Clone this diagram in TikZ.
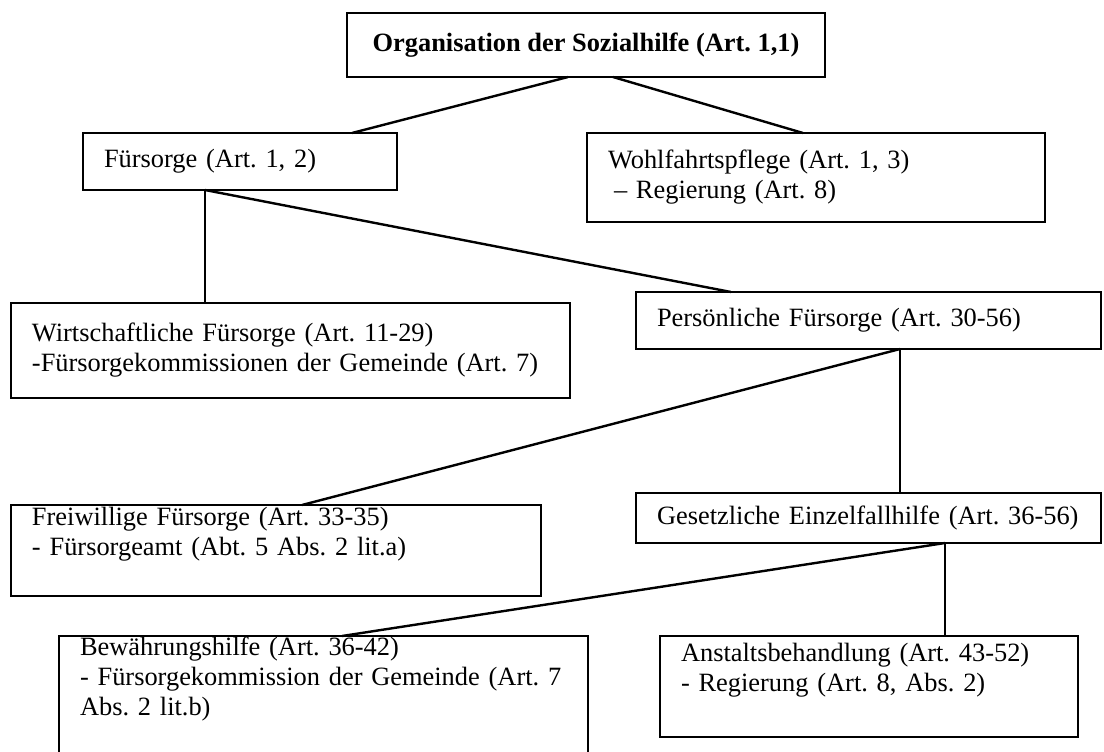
\documentclass[tikz,border=0pt]{standalone}
\usepackage{fontspec}
\setmainfont{Liberation Serif}
\usetikzlibrary{positioning}
\frenchspacing

\begin{document}
\begin{tikzpicture}[x=0.5pt, y=-0.5pt, line width=1.2pt]
	\tikzstyle{box}=[draw, rectangle, align=left, inner xsep=10.5pt, inner ysep=0pt,
		outer sep=0pt, font=\fontsize{13.2}{15}\selectfont]
	\useasboundingbox (0,0) rectangle (1104,751);
	\clip (0,0) rectangle (1104,751);
	% % Nodes
	% organisation
	\node[box, align=center, minimum width=239pt, minimum height=32pt,
		  font=\fontsize{13.2}{15}\selectfont\bfseries]
	(org) at (586,45)
	{Organisation der Sozialhilfe (Art. 1,1)};
	% fuersorge
	\node[box, text width=136pt, minimum height=28.5pt,
		  below left=28pt and -25pt of org]
	(fuer)
	{Fürsorge (Art. 1, 2)};
	% wohlfahrtspflege
	\node[box, text width=208pt, minimum height=44.5pt,
		  below right=28pt and -119pt of org]
	(wohl)
	{
		Wohlfahrtspflege (Art. 1, 3) \\
		\hspace{3pt}– Regierung (Art. 8)
	};
	% wirtschaftliche fuersorge
	\node[box, text width=258.5pt, minimum height=47.5pt,
		  below right=56.5pt and -193pt of fuer]
	(wirt)
	{
		Wirtschaftliche Fürsorge (Art. 11-29) \\
		-Fürsorgekommissionen der Gemeinde (Art. 7)
	};
	% persoenliche fuersorge
	\node[box, text width=211.5pt, minimum height=28.5pt,
		  below right=51pt and 119.5pt of fuer]
	(pers)
	{Persönliche Fürsorge (Art. 30-56)};
	% freiwillige fuersorge
	\node[box, text width=244pt, minimum height=45.5pt,
		  below right=53.5pt and -279.5pt of wirt]
	(frei)
	{
		Freiwillige Fürsorge (Art. 33-35) \\
		- Fürsorgeamt (Abt. 5 Abs. 2 lit.a) \\
		\strut
	};
	% gesetzliche einzelfallhilfe
	\node[box, text width=211.5pt, minimum height=25pt,
		  below=72pt of pers]
	(gesetz)
	{Gesetzliche Einzelfallhilfe (Art. 36-56)};
	% bewaehrungshilfe
	\node[box, text width=243.5pt, minimum height=75pt,
		  below right=20pt and -241pt of frei]
	(bew)
	{
		Bewährungshilfe (Art. 36-42) \\
		- Fürsorgekommission der Gemeinde (Art. 7 \\
		Abs. 2 lit.b) \\
		\strut \\
		\strut
	};
	% anstaltsbehandlung
	\node[box, text width=188pt, minimum height=50.5pt,
		  below left=46.5pt and -221pt of gesetz]
	(anst)
	{
		Anstaltsbehandlung (Art. 43-52) \\
		- Regierung (Art. 8, Abs. 2) \\
		\strut
	};
	% % Connectors
	\draw ([xshift=-9pt]org.south) -- ([xshift=56pt]fuer.north);
	\draw ([xshift=13.5pt]org.south) -- ([xshift=-6.5pt]wohl.north);
	\draw ([xshift=-17.5pt]fuer.south) coordinate (fsplit) -- (fsplit |- wirt.north);
	\draw (fsplit) -- ([xshift=-68.75pt]pers.north);
	\draw ([xshift=15.75pt]pers.south) coordinate (psplit) -- (psplit |- gesetz.north);
	\draw (psplit) -- ([xshift=13pt]frei.north);
	\draw ([xshift=38.25pt]gesetz.south) coordinate (gsplit) -- (gsplit |- anst.north);
	\draw (gsplit) -- ([xshift=9.25pt]bew.north);
\end{tikzpicture}
\end{document}
